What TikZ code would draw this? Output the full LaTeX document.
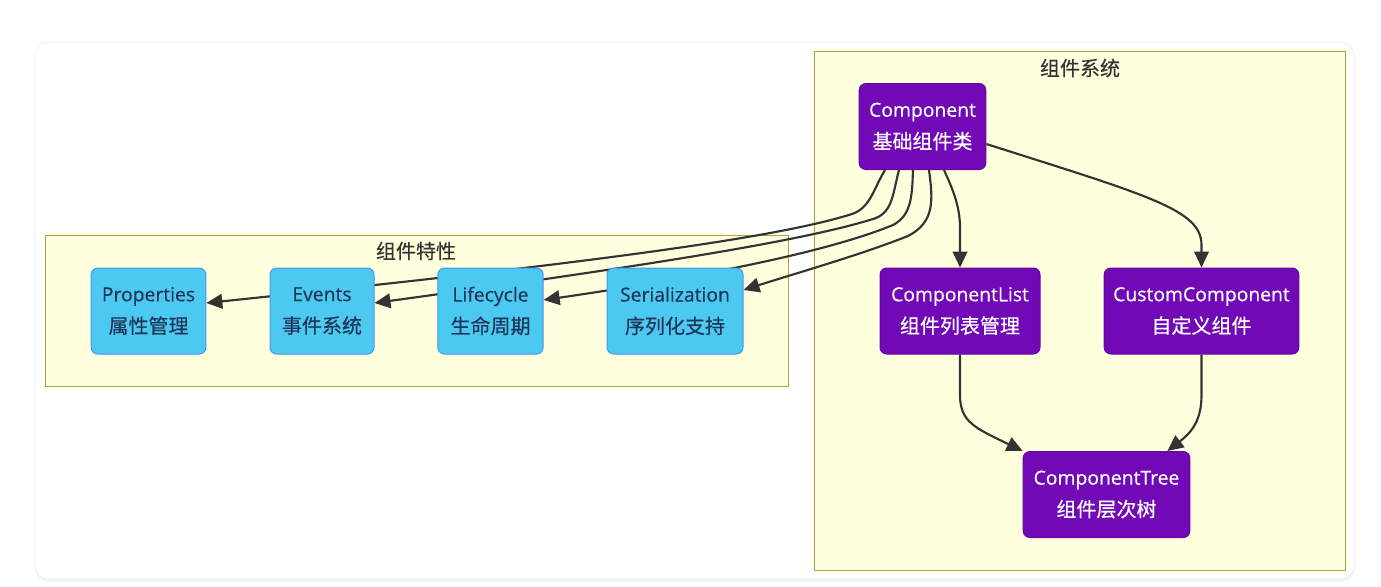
\documentclass[tikz,border=0pt]{standalone}
\usepackage{fontspec}
\setmainfont{Open Sans}[FakeBold=0.4]
\newfontfamily\zhfont{Noto Sans CJK SC}[FakeBold=0.4]
\newcommand{\zh}[1]{{\zhfont\fontsize{15pt}{24pt}\selectfont #1}}
\usetikzlibrary{arrows.meta,calc}
\definecolor{purplebox}{HTML}{7209B7}
\definecolor{purpleline}{HTML}{640A9E}
\definecolor{bluebox}{HTML}{4CC9F0}
\definecolor{blueline}{HTML}{4895EF}
\definecolor{bluetext}{HTML}{1F3459}
\definecolor{clusterfill}{HTML}{FFFFDE}
\definecolor{clusterline}{HTML}{AAAA33}
\definecolor{edgegray}{HTML}{333333}
\pgfdeclarelayer{background}
\pgfdeclarelayer{edges}
\pgfsetlayers{background,edges,main}
\tikzset{
  box/.style={rectangle, rounded corners=5pt, align=center, minimum height=64.5pt,
    inner sep=0pt, line width=0.75pt, font=\fontsize{14.5pt}{24pt}\selectfont},
  corebox/.style={box, fill=purplebox, draw=purpleline, text=white},
  featbox/.style={box, fill=bluebox, draw=blueline, text=bluetext},
  cluster/.style={fill=clusterfill, draw=clusterline, line width=0.75pt},
  clustertitle/.style={inner sep=0pt, text=edgegray},
  link/.style={draw=edgegray, line width=1.6pt, -{Triangle[length=12pt,width=11pt]}}
}
\begin{document}
\begin{tikzpicture}[x=0.75pt,y=0.75pt,yscale=-1,xscale=1]
    \useasboundingbox (0,0) rectangle (1381,586);

    % Text Node
    \node [corebox, minimum width=95pt] (comp) at (922.5,126.5) {Component\\\zh{基础组件类}};
    % Text Node
    \node [corebox, minimum width=120pt] (clist) at (960,311) {ComponentList\\\zh{组件列表管理}};
    % Text Node
    \node [corebox, minimum width=146pt] (custom) at (1201.5,311) {CustomComponent\\\zh{自定义组件}};
    % Text Node
    \node [corebox, minimum width=125pt] (tree) at (1106.5,494.5) {ComponentTree\\\zh{组件层次树}};
    % Text Node
    \node [featbox, minimum width=86pt] (prop) at (148.5,311) {Properties\\\zh{属性管理}};
    % Text Node
    \node [featbox, minimum width=78pt] (events) at (322,311) {Events\\\zh{事件系统}};
    % Text Node
    \node [featbox, minimum width=79pt] (life) at (490.5,311) {Lifecycle\\\zh{生命周期}};
    % Text Node
    \node [featbox, minimum width=102pt] (serial) at (675,311) {Serialization\\\zh{序列化支持}};

    \begin{pgfonlayer}{background}
    %Shape: Rectangle (card)
    \fill [black!4, rounded corners=10pt] (35,45) rectangle (1355,582);
    \draw [white!92!black, fill=white, rounded corners=10pt] (35,42) rectangle (1354,579);
    %Shape: Rectangle (clusters)
    \draw [cluster] (45,235) rectangle (788,386);
    \draw [cluster] (814,51) rectangle (1345,570);
    % Text Node
    \node [clustertitle] (featuretitle) at (416,251) {\zh{组件特性}};
    % Text Node
    \node [clustertitle] (coretitle) at (1080,68) {\zh{组件系统}};
    \end{pgfonlayer}

    \begin{pgfonlayer}{edges}
    %Curve Lines
    \draw [link] ($(comp.south)+(-37.5,0)$) .. controls (873,190) and (870,208) .. (852,214) .. controls (770,240) and (560,266) .. ($(prop.east)+(0,-8)$);
    \draw [link] ($(comp.south)+(-23.5,0)$) .. controls (893,192) and (893,211) .. (876,218) .. controls (800,243) and (600,272) .. ($(events.east)+(0,-8)$);
    \draw [link] ($(comp.south)+(-9.5,0)$) .. controls (912,195) and (912,215) .. (893,225) .. controls (820,255) and (680,280) .. ($(life.east)+(0,-11)$);
    \draw [link] ($(comp.south)+(6.5,0)$) .. controls (933,200) and (935,222) .. (908,236) .. controls (860,255) and (800,272) .. ($(serial.east)+(0,-21)$);
    \draw [link] ($(comp.south)+(21.5,0)$) .. controls (952,188) and (960,205) .. (960,228) -- (clist.north);
    \draw [link] ($(comp.east)+(0,17.5)$) .. controls (1150,196) and (1201.5,210) .. (1201.5,245) -- (custom.north);
    \draw [link] (clist.south) -- (960,395) .. controls (960,422) and (975,428) .. (tree.north west);
    \draw [link] (custom.south) -- (1201.5,395) .. controls (1201.5,420) and (1192,432) .. ($(tree.north east)+(-23,0)$);
    \end{pgfonlayer}

\end{tikzpicture}
\end{document}
